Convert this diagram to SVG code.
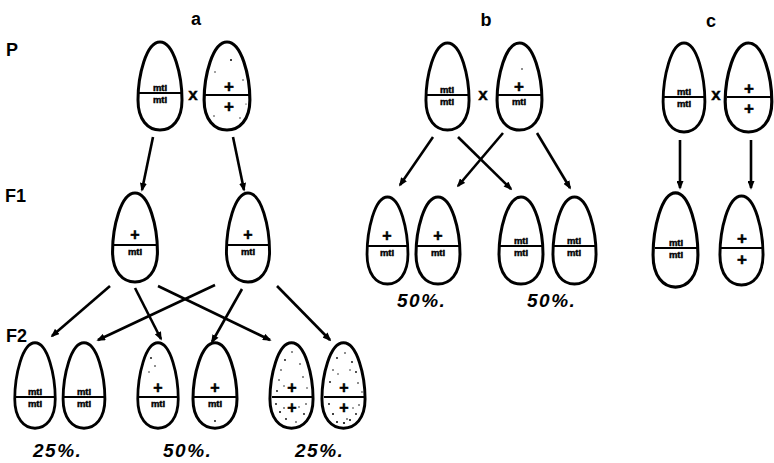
<svg xmlns="http://www.w3.org/2000/svg" xmlns:xlink="http://www.w3.org/1999/xlink" width="774" height="463" viewBox="0 0 774 463">
  <style>
    .shell { fill: #fff; stroke: #000; stroke-width: 3; vector-effect: non-scaling-stroke; }
    .bar { stroke: #000; stroke-width: 2.2; }
    .g { font-family: "Liberation Sans", "DejaVu Sans", sans-serif; font-weight: bold; font-size: 9.5px; text-anchor: middle; fill: #000; stroke: #000; stroke-width: 0.45; }
    .plus { font-family: "Liberation Sans", "DejaVu Sans", sans-serif; font-weight: bold; font-size: 16px; text-anchor: middle; fill: #000; stroke: #000; stroke-width: 0.5; }
    .big { font-size: 17px; }
    .cross { font-family: "Liberation Sans", "DejaVu Sans", sans-serif; font-weight: bold; font-size: 17px; text-anchor: middle; fill: #000; stroke: #000; stroke-width: 0.4; }
    .lab { font-family: "Liberation Sans", "DejaVu Sans", sans-serif; font-weight: bold; font-size: 18px; fill: #000; }
    .pct { font-family: "Liberation Sans", "DejaVu Sans", sans-serif; font-weight: bold; font-style: italic; font-size: 19px; fill: #000; letter-spacing: 1.5px; }
    .arrow { stroke: #000; stroke-width: 2.6; fill: none; marker-end: url(#head); }
    .dot { fill: #000; }
  </style>
  <defs>
    <!-- egg outline, 44 x 88, centred on the origin, narrow end up -->
    <path id="egg" d="M 0,-44 C 14,-44 22,-10 22,14 C 22,34 12,44 0,44 C -12,44 -22,34 -22,14 C -22,-10 -14,-44 0,-44 Z"/>
    <marker id="head" viewBox="0 0 10 8" refX="8" refY="4" markerWidth="9" markerHeight="7" markerUnits="userSpaceOnUse" orient="auto">
      <path d="M0,0 L10,4 L0,8 Z" fill="#000"/>
    </marker>
  </defs>

  <!-- row and panel labels -->
  <g id="labels">
    <text class="lab" x="6" y="56">P</text>
    <text class="lab" x="5" y="202">F1</text>
    <text class="lab" x="6" y="342">F2</text>
    <text class="lab" x="196" y="25" text-anchor="middle">a</text>
    <text class="lab" x="486" y="26" text-anchor="middle">b</text>
    <text class="lab" x="711" y="27" text-anchor="middle">c</text>
    <text class="pct" x="33" y="457">25%.</text>
    <text class="pct" x="163" y="457">50%.</text>
    <text class="pct" x="295" y="457">25%.</text>
    <text class="pct" x="397" y="307">50%.</text>
    <text class="pct" x="527" y="307">50%.</text>
  </g>

  <!-- cross signs -->
  <g id="crosses">
    <text class="cross" x="193" y="100">x</text>
    <text class="cross" x="483" y="100">x</text>
    <text class="cross" x="716" y="100">x</text>
  </g>

  <!-- connectors -->
  <g id="connectors">
    <!-- a: P to F1 -->
    <line class="arrow" x1="153" y1="137" x2="142" y2="190"/>
    <line class="arrow" x1="233" y1="137" x2="244" y2="190"/>
    <!-- a: F1 to F2 -->
    <line class="arrow" x1="110" y1="286" x2="52" y2="336"/>
    <line class="arrow" x1="135" y1="288" x2="161" y2="339"/>
    <line class="arrow" x1="158" y1="286" x2="270" y2="340"/>
    <line class="arrow" x1="215" y1="285" x2="98" y2="340"/>
    <line class="arrow" x1="242" y1="289" x2="212" y2="342"/>
    <line class="arrow" x1="277" y1="286" x2="330" y2="340"/>
    <!-- b: P to F1 -->
    <line class="arrow" x1="433" y1="137" x2="400" y2="185"/>
    <line class="arrow" x1="458" y1="137" x2="511" y2="189"/>
    <line class="arrow" x1="503" y1="133" x2="458" y2="186"/>
    <line class="arrow" x1="537" y1="133" x2="570" y2="188"/>
    <!-- c: P to F1 -->
    <line class="arrow" x1="680" y1="140" x2="680" y2="188"/>
    <line class="arrow" x1="751" y1="140" x2="751" y2="188"/>
  </g>

  <!-- panel a, parents -->
  <g id="a-p1">
    <use xlink:href="#egg" class="shell" transform="translate(160,86)"/>
    <line class="bar" x1="139" y1="93" x2="181" y2="93"/>
    <text class="g" x="160" y="91">mtI</text>
    <text class="g" x="160" y="103">mtI</text>
  </g>
  <g id="a-p2">
    <use xlink:href="#egg" class="shell" transform="translate(227,86) scale(1.04,1)"/>
    <line class="bar" x1="205" y1="95" x2="249" y2="95"/>
    <text class="plus big" x="229" y="91.5">+</text>
    <text class="plus big" x="229" y="111.5">+</text>
    <circle class="dot" cx="231" cy="60" r="1"/>
    <circle class="dot" cx="215" cy="72" r="0.7"/>
    <circle class="dot" cx="243" cy="80" r="0.7"/>
    <circle class="dot" cx="214" cy="116" r="0.7"/>
    <circle class="dot" cx="240" cy="118" r="0.7"/>
    <circle class="dot" cx="246" cy="104" r="0.6"/>
  </g>

  <!-- panel a, F1 -->
  <g id="a-f1-1">
    <use xlink:href="#egg" class="shell" transform="translate(135,237.5) scale(1.02,1.01)"/>
    <line class="bar" x1="114" y1="245" x2="157" y2="245"/>
    <text class="plus" x="135" y="240">+</text>
    <text class="g" x="135" y="255">mtI</text>
  </g>
  <g id="a-f1-2">
    <use xlink:href="#egg" class="shell" transform="translate(248,237.5) scale(0.98,1.01)"/>
    <line class="bar" x1="228" y1="245" x2="269" y2="245"/>
    <text class="plus" x="248" y="240">+</text>
    <text class="g" x="248" y="255">mtI</text>
  </g>

  <!-- panel a, F2 -->
  <g id="a-f2-1">
    <use xlink:href="#egg" class="shell" transform="translate(35,385.5) scale(0.92,0.97)"/>
    <line class="bar" x1="16" y1="397" x2="54" y2="397"/>
    <text class="g" x="35" y="395">mtI</text>
    <text class="g" x="35" y="407">mtI</text>
  </g>
  <g id="a-f2-2">
    <use xlink:href="#egg" class="shell" transform="translate(84,385.5) scale(0.95,0.97)"/>
    <line class="bar" x1="64" y1="397" x2="104" y2="397"/>
    <text class="g" x="84" y="395">mtI</text>
    <text class="g" x="84" y="407">mtI</text>
  </g>
  <g id="a-f2-3">
    <use xlink:href="#egg" class="shell" transform="translate(158,385.5) scale(0.92,0.97)"/>
    <line class="bar" x1="139" y1="397" x2="177" y2="397"/>
    <text class="plus" x="158" y="393">+</text>
    <text class="g" x="158" y="407">mtI</text>
    <circle class="dot" cx="151" cy="358" r="0.9"/>
    <circle class="dot" cx="155" cy="366" r="0.8"/>
    <circle class="dot" cx="149" cy="372" r="0.7"/>
  </g>
  <g id="a-f2-4">
    <use xlink:href="#egg" class="shell" transform="translate(215,385.5) scale(1,0.97)"/>
    <line class="bar" x1="194" y1="397" x2="236" y2="397"/>
    <text class="plus" x="215" y="393">+</text>
    <text class="g" x="215" y="407">mtI</text>
    <circle class="dot" cx="215" cy="421" r="0.9"/>
  </g>
  <g id="a-f2-5">
    <use xlink:href="#egg" class="shell" transform="translate(291.5,385.5) scale(0.98,0.97)"/>
    <line class="bar" x1="272" y1="397" x2="312" y2="397"/>
    <text class="plus" x="292" y="393">+</text>
    <text class="plus" x="292" y="413">+</text>
    <g class="dot">
      <circle cx="285" cy="360" r="0.9"/><circle cx="281" cy="370" r="0.8"/><circle cx="279" cy="380" r="0.8"/>
      <circle cx="277" cy="391" r="0.9"/><circle cx="276" cy="404" r="0.9"/><circle cx="280" cy="412" r="1"/>
      <circle cx="284" cy="408" r="0.8"/><circle cx="286" cy="419" r="0.9"/><circle cx="296" cy="422" r="0.8"/>
      <circle cx="304" cy="414" r="0.9"/><circle cx="306" cy="404" r="0.8"/><circle cx="299" cy="407" r="0.7"/>
      <circle cx="300" cy="364" r="0.8"/><circle cx="303" cy="377" r="0.8"/><circle cx="292" cy="352" r="0.8"/>
      <circle cx="307" cy="388" r="0.7"/><circle cx="284" cy="386" r="0.7"/>
    </g>
  </g>
  <g id="a-f2-6">
    <use xlink:href="#egg" class="shell" transform="translate(343.5,385.5) scale(0.98,0.97)"/>
    <line class="bar" x1="324" y1="397" x2="364" y2="397"/>
    <text class="plus" x="344" y="393">+</text>
    <text class="plus" x="344" y="413">+</text>
    <g class="dot">
      <circle cx="337" cy="358" r="0.9"/><circle cx="345" cy="353" r="0.8"/><circle cx="352" cy="362" r="0.9"/>
      <circle cx="333" cy="370" r="0.8"/><circle cx="356" cy="372" r="0.9"/><circle cx="358" cy="383" r="0.8"/>
      <circle cx="330" cy="382" r="0.9"/><circle cx="338" cy="374" r="0.7"/><circle cx="350" cy="370" r="0.7"/>
      <circle cx="329" cy="404" r="0.9"/><circle cx="333" cy="414" r="1"/><circle cx="337" cy="422" r="1"/>
      <circle cx="344" cy="423" r="1.1"/><circle cx="350" cy="420" r="1"/><circle cx="356" cy="414" r="0.9"/>
      <circle cx="359" cy="405" r="0.8"/><circle cx="353" cy="408" r="0.7"/><circle cx="347" cy="419" r="0.8"/>
      <circle cx="362" cy="392" r="0.7"/>
    </g>
  </g>

  <!-- panel b, parents -->
  <g id="b-p1">
    <use xlink:href="#egg" class="shell" transform="translate(447.5,86.5) scale(0.98,0.99)"/>
    <line class="bar" x1="427" y1="95" x2="468" y2="95"/>
    <text class="g" x="447" y="93">mtI</text>
    <text class="g" x="447" y="105">mtI</text>
  </g>
  <g id="b-p2">
    <use xlink:href="#egg" class="shell" transform="translate(519.5,86.5) scale(1.02,0.99)"/>
    <line class="bar" x1="498" y1="95" x2="541" y2="95"/>
    <text class="plus big" x="519" y="91.5">+</text>
    <text class="g" x="519" y="105">mtI</text>
    <circle class="dot" cx="522" cy="69" r="0.8"/>
  </g>

  <!-- panel b, F1 -->
  <g id="b-f1-1">
    <use xlink:href="#egg" class="shell" transform="translate(387.5,240.5) scale(0.93,0.99)"/>
    <line class="bar" x1="368" y1="246" x2="407" y2="246"/>
    <text class="plus" x="387" y="241">+</text>
    <text class="g" x="387" y="256">mtI</text>
  </g>
  <g id="b-f1-2">
    <use xlink:href="#egg" class="shell" transform="translate(438,240.5) scale(1,0.99)"/>
    <line class="bar" x1="417" y1="246" x2="459" y2="246"/>
    <text class="plus" x="438" y="241">+</text>
    <text class="g" x="438" y="256">mtI</text>
  </g>
  <g id="b-f1-3">
    <use xlink:href="#egg" class="shell" transform="translate(521,240.5) scale(1,0.99)"/>
    <line class="bar" x1="500" y1="246" x2="542" y2="246"/>
    <text class="g" x="521" y="244">mtI</text>
    <text class="g" x="521" y="256">mtI</text>
  </g>
  <g id="b-f1-4">
    <use xlink:href="#egg" class="shell" transform="translate(574.5,240.5) scale(0.98,0.99)"/>
    <line class="bar" x1="554" y1="246" x2="595" y2="246"/>
    <text class="g" x="574" y="244">mtI</text>
    <text class="g" x="574" y="256">mtI</text>
  </g>

  <!-- panel c, parents -->
  <g id="c-p1">
    <use xlink:href="#egg" class="shell" transform="translate(684,87.5) scale(0.95,1.01)"/>
    <line class="bar" x1="664" y1="97" x2="704" y2="97"/>
    <text class="g" x="684" y="95">mtI</text>
    <text class="g" x="684" y="107">mtI</text>
  </g>
  <g id="c-p2">
    <use xlink:href="#egg" class="shell" transform="translate(748.5,87.5) scale(1.06,1.01)"/>
    <line class="bar" x1="727" y1="97" x2="771" y2="97"/>
    <text class="plus big" x="749" y="93.5">+</text>
    <text class="plus big" x="749" y="113.5">+</text>
  </g>

  <!-- panel c, F1 -->
  <g id="c-f1-1">
    <use xlink:href="#egg" class="shell" transform="translate(675.5,240) scale(1.02,1.07)"/>
    <line class="bar" x1="655" y1="248" x2="697" y2="248"/>
    <text class="g" x="676" y="246">mtI</text>
    <text class="g" x="676" y="258">mtI</text>
  </g>
  <g id="c-f1-2">
    <use xlink:href="#egg" class="shell" transform="translate(741.5,240.5) scale(0.98,1.01)"/>
    <line class="bar" x1="721" y1="248" x2="762" y2="248"/>
    <text class="plus big" x="742" y="244">+</text>
    <text class="plus big" x="742" y="264.5">+</text>
  </g>
</svg>
